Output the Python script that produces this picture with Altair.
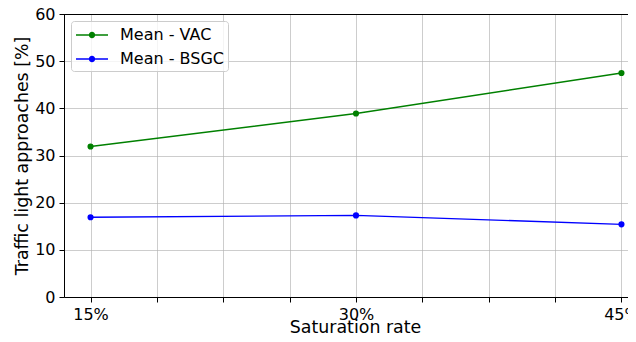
import altair as alt
import pandas as pd

rates = [15, 30, 45]
vac = [31.9, 38.9, 47.5]
bsgc = [16.9, 17.3, 15.4]
series_names = ["Mean - VAC", "Mean - BSGC"]
colors = ["#008000", "#0000ff"]
x_ticks = [15, 18.75, 22.5, 26.25, 30, 33.75, 37.5, 41.25, 45]
y_ticks = [0, 10, 20, 30, 40, 50, 60]

rows = []
for name, vals in zip(series_names, [vac, bsgc]):
    for r, v in zip(rates, vals):
        rows.append({"series": name, "rate": r, "value": v})
df = pd.DataFrame(rows)

FONT = "DejaVu Sans"
sym_path = ("M-1.6,-0.07H1.6V0.07H-1.6Z "
            "M0.32,0A0.32,0.32 0 1 1 -0.32,0A0.32,0.32 0 1 1 0.32,0Z")

color = alt.Color(
    "series:N",
    scale=alt.Scale(domain=series_names, range=colors),
    sort=series_names,
    legend=alt.Legend(
        title=None, orient="top-left", offset=7,
        symbolType=sym_path, symbolSize=400, symbolStrokeWidth=0,
        symbolOffset=7, labelOffset=18, rowPadding=6, padding=4,
        labelFont=FONT, labelFontSize=16, labelColor="#000000",
        fillColor="rgba(255,255,255,0.8)", strokeColor="#cccccc",
        cornerRadius=3,
    ),
)

# original plot spans 13.5 .. 46.5; the visible window ends near 45.4
x = alt.X(
    "rate:Q",
    scale=alt.Scale(domain=[13.5, 45.37], nice=False, zero=False),
    axis=alt.Axis(
        title="Saturation rate", values=x_ticks,
        labelExpr="datum.value % 15 == 0 ? datum.value + '%' : ''",
        labelFlush=False, titleX=291, titleY=35, titleAlign="center",
        titleBaseline="alphabetic",
    ),
)
y = alt.Y(
    "value:Q",
    scale=alt.Scale(domain=[0, 60], nice=False),
    axis=alt.Axis(title="Traffic light approaches [%]", values=y_ticks),
)

base = alt.Chart(df).encode(x=x, y=y, color=color)
lines = base.mark_line(strokeWidth=1.4)
points = base.mark_point(filled=True, size=38, opacity=1)
top = alt.Chart(df).mark_rule(color="#000000", strokeWidth=1, yOffset=0.5).encode(
    y=alt.datum(60)
)

chart = (
    alt.layer(lines, points, top)
    .properties(
        width=564, height=283,
        autosize=alt.AutoSizeParams(type="none"),
        padding={"left": 56, "top": 6, "right": 0, "bottom": 37},
    )
    .configure_view(stroke=None)
    .configure_axis(
        domain=True, domainColor="#000000", domainWidth=1,
        grid=True, gridColor="#b0b0b0", gridWidth=0.8,
        gridOpacity=0.8,
        tickColor="#000000", tickSize=5, tickWidth=1,
        labelFont=FONT, labelFontSize=16, labelColor="#000000",
        titleFont=FONT, titleFontSize=17.4, titleColor="#000000",
        titleFontWeight="normal", labelPadding=4,
    )
    .configure_axisY(titlePadding=3)
)

chart.save("out.html", embed_options={"renderer": "svg", "actions": False})
